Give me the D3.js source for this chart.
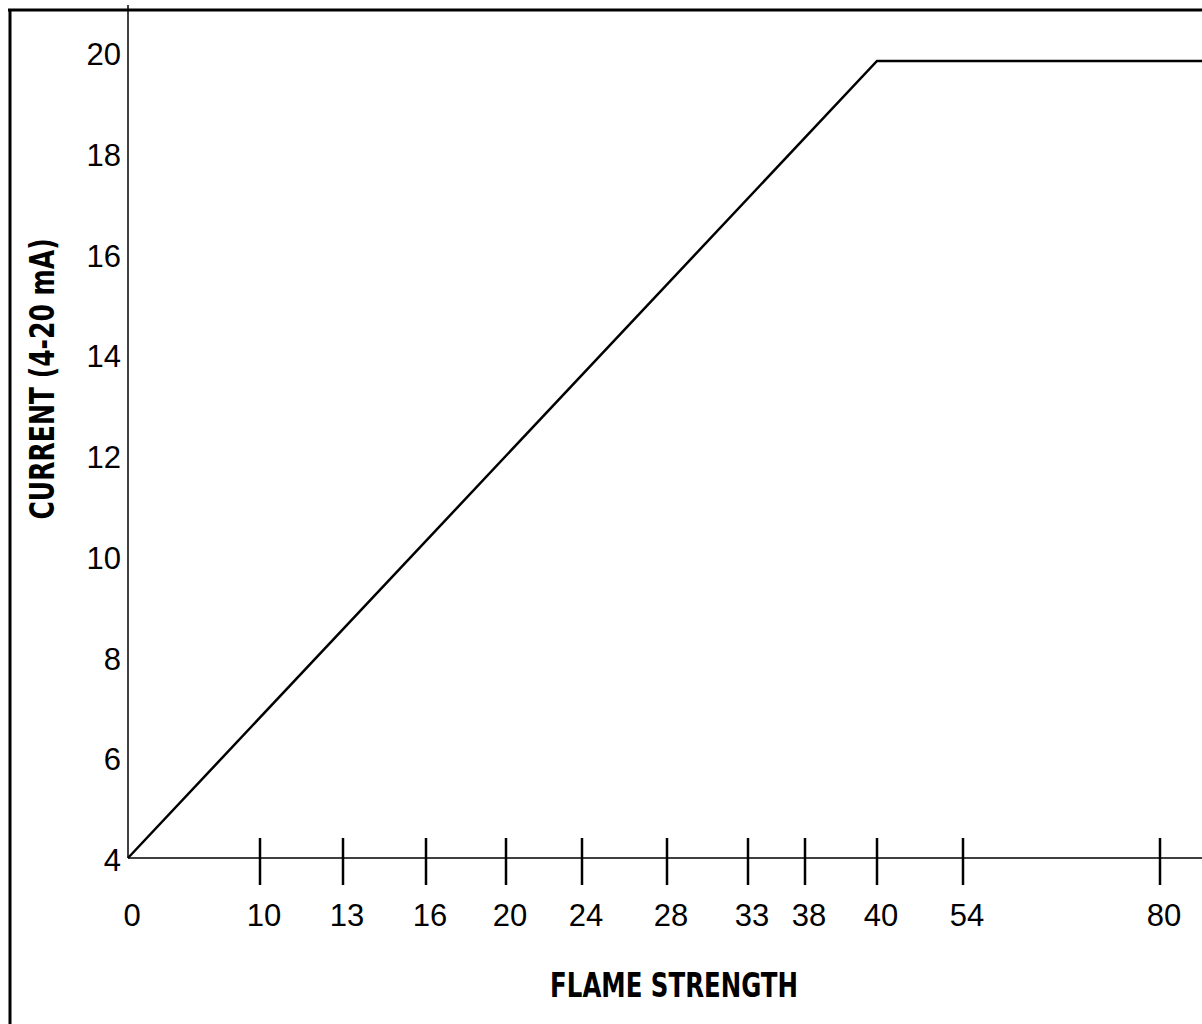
<!DOCTYPE html>
<html>
<head>
<meta charset="utf-8">
<script src="https://cdn.jsdelivr.net/npm/d3@7"></script>
<style>
  html, body { margin: 0; padding: 0; background: #fff; }
  svg { display: block; }
</style>
</head>
<body>
<div id="chart"></div>
<script>
// flame strength ticks (the axis is not linear, each tick has its own spot)
var flameTicks = [0, 10, 13, 16, 20, 24, 28, 33, 38, 40, 54, 80];
var flameTickPos = [128, 260, 343, 426, 506, 582, 667, 748, 805, 877, 963, 1160];
var currentTicks = [4, 6, 8, 10, 12, 14, 16, 18, 20];

// response curve: linear up to 40, flat after
var flameValues = [0, 40, 90];
var currentValues = [4, 20, 20];

var width = 1202, height = 1024;
var axisY = 858, axisX = 128;
var titleFont = "'Liberation Sans Narrow', 'DejaVu Sans Condensed', 'Roboto Condensed', sans-serif";

var svg = d3.select("#chart").append("svg")
    .attr("width", width)
    .attr("height", height);

var x = d3.scaleLinear()
    .domain(flameTicks)
    .range(flameTickPos);

var y = d3.scaleLinear()
    .domain([4, 20])
    .range([axisY, 61]);

// the printed labels sit on a slightly taller spread than the curve
var yLabel = d3.scaleLinear()
    .domain([4, 20])
    .range([860, 54]);

// outer frame
svg.append("line")
    .attr("x1", 8).attr("x2", width)
    .attr("y1", 10).attr("y2", 10)
    .attr("stroke", "#000").attr("stroke-width", 3);
svg.append("line")
    .attr("x1", 10).attr("x2", 10)
    .attr("y1", 9).attr("y2", height)
    .attr("stroke", "#000").attr("stroke-width", 3);

// y axis line
svg.append("line")
    .attr("x1", axisX).attr("x2", axisX)
    .attr("y1", 5).attr("y2", axisY)
    .attr("stroke", "#000").attr("stroke-width", 1.5);

// x axis line
svg.append("line")
    .attr("x1", axisX).attr("x2", width)
    .attr("y1", axisY).attr("y2", axisY)
    .attr("stroke", "#000").attr("stroke-width", 1.5);

// x ticks, crossing the axis
svg.append("g").selectAll("line")
    .data(flameTicks.slice(1))
    .enter().append("line")
    .attr("x1", function(d) { return x(d); })
    .attr("x2", function(d) { return x(d); })
    .attr("y1", axisY - 20)
    .attr("y2", axisY + 27)
    .attr("stroke", "#000")
    .attr("stroke-width", 2.5);

svg.append("g").selectAll("text")
    .data(flameTicks)
    .enter().append("text")
    .attr("x", function(d) { return x(d) + 4; })
    .attr("y", 926)
    .attr("text-anchor", "middle")
    .style("font-family", "'Liberation Sans', Arial, sans-serif")
    .style("font-size", "31px")
    .text(function(d) { return d; });

// y tick labels
svg.append("g").selectAll("text")
    .data(currentTicks)
    .enter().append("text")
    .attr("x", 121)
    .attr("y", function(d) { return yLabel(d); })
    .attr("dy", "0.36em")
    .attr("text-anchor", "end")
    .style("font-family", "'Liberation Sans', Arial, sans-serif")
    .style("font-size", "31px")
    .text(function(d) { return d; });

// the curve
var line = d3.line()
    .x(function(d) { return x(d[0]); })
    .y(function(d) { return y(d[1]); });

svg.append("path")
    .datum(d3.zip(flameValues, currentValues))
    .attr("d", line)
    .attr("fill", "none")
    .attr("stroke", "#000")
    .attr("stroke-width", 2.5);

// axis titles (squeezed, the original face is a condensed bold)
svg.append("text")
    .attr("transform", "translate(674,997) scale(0.8,1)")
    .attr("text-anchor", "middle")
    .style("font-family", titleFont)
    .style("font-weight", "bold")
    .style("font-size", "34px")
    .text("FLAME STRENGTH");

svg.append("text")
    .attr("transform", "translate(54,379) rotate(-90) scale(0.82,1)")
    .attr("text-anchor", "middle")
    .style("font-family", titleFont)
    .style("font-weight", "bold")
    .style("font-size", "34px")
    .text("CURRENT (4-20 mA)");
</script>
</body>
</html>
